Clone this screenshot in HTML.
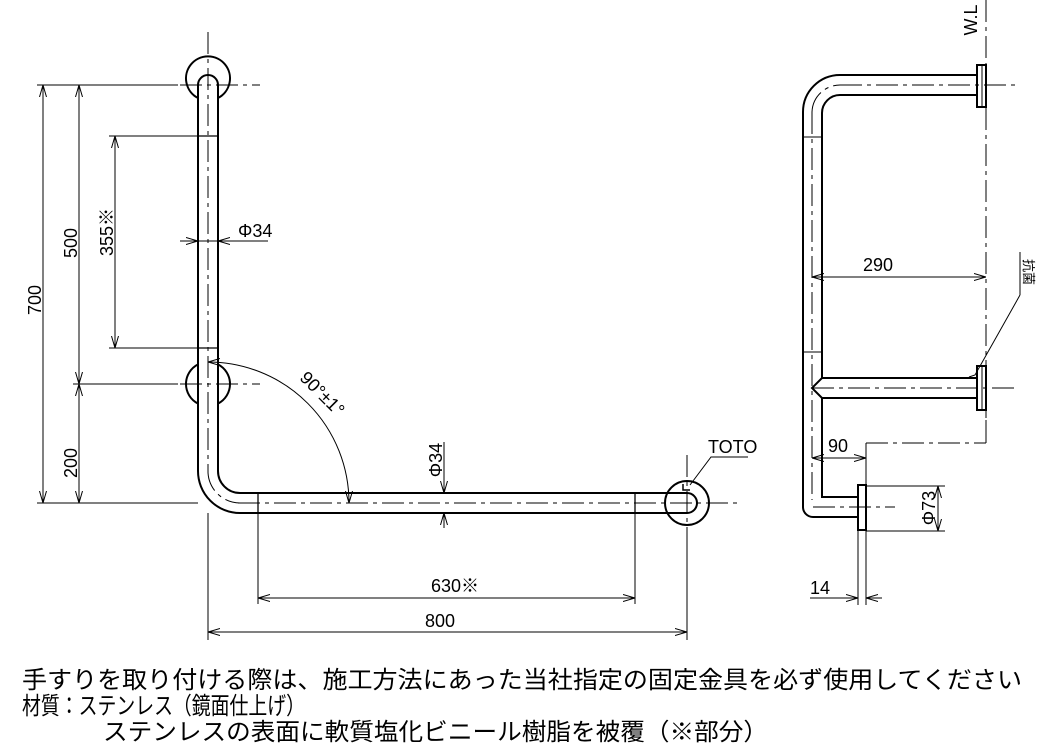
<!DOCTYPE html>
<html><head><meta charset="utf-8"><style>
html,body{margin:0;padding:0;background:#fff;}
svg{display:block;}
text{font-family:"Liberation Sans","Noto Sans CJK JP",sans-serif;fill:#000;}
</style></head><body>
<svg width="1039" height="752" viewBox="0 0 1039 752" xmlns="http://www.w3.org/2000/svg">
<defs>
<marker id="a" viewBox="0 0 12 8" refX="12" refY="4" markerWidth="12" markerHeight="8" orient="auto-start-reverse" markerUnits="userSpaceOnUse">
<polyline points="0,0.5 12,4 0,7.5" fill="none" stroke="#000" stroke-width="1"/></marker>
</defs>
<g fill="none" stroke="#000">
<g stroke-width="1" stroke-dasharray="22,5,4,5">
<line x1="208" y1="32" x2="208" y2="470"/>
<line x1="180" y1="85" x2="260" y2="85"/>
<line x1="180" y1="384" x2="260" y2="384"/>
<line x1="238" y1="503" x2="740" y2="503"/>
<line x1="687" y1="455" x2="687" y2="545"/>
<path d="M208 470 A32 32 0 0 0 240 503"/>
</g>
<g stroke-width="2">
<path d="M198 98 A22 22 0 1 1 218 98"/>
<path d="M198 364.4 A22 22 0 0 0 198 403.6"/>
<path d="M218 364.4 A22 22 0 0 1 218 403.6"/>
<path d="M687 481 A22 22 0 1 1 687 525 A22 22 0 0 1 687 481" />
<path d="M198 471 L198 85 A10 10 0 0 1 218 85 L218 471 A22 22 0 0 0 240 493 L687 493 A10 10 0 0 1 687 513 L240 513 A42 42 0 0 1 198 471"/>
</g>
<g stroke-width="1.3">
<line x1="198" y1="136" x2="218" y2="136"/>
<line x1="198" y1="348" x2="218" y2="348"/>
<line x1="258" y1="493" x2="258" y2="513"/>
<line x1="635" y1="493" x2="635" y2="513"/>
</g>
<g stroke-width="1">
<line x1="37" y1="85" x2="178" y2="85"/>
<line x1="73" y1="384" x2="178" y2="384"/>
<line x1="37" y1="503" x2="198" y2="503"/>
<line x1="109" y1="136" x2="198" y2="136"/>
<line x1="109" y1="348" x2="198" y2="348"/>
<line x1="43" y1="85" x2="43" y2="503" marker-start="url(#a)" marker-end="url(#a)"/>
<line x1="79" y1="85" x2="79" y2="384" marker-start="url(#a)" marker-end="url(#a)"/>
<line x1="79" y1="384" x2="79" y2="503" marker-start="url(#a)" marker-end="url(#a)"/>
<line x1="115" y1="136" x2="115" y2="348" marker-start="url(#a)" marker-end="url(#a)"/>
<line x1="180" y1="241" x2="198" y2="241" marker-end="url(#a)"/>
<line x1="268" y1="241" x2="218" y2="241" marker-end="url(#a)"/>
<line x1="198" y1="241" x2="218" y2="241"/>
<path d="M208 362 A141 141 0 0 1 349 503" marker-start="url(#a)" marker-end="url(#a)"/>
<line x1="444" y1="442" x2="444" y2="493" marker-end="url(#a)"/>
<line x1="444" y1="528" x2="444" y2="513" marker-end="url(#a)"/>
<line x1="258" y1="513" x2="258" y2="604"/>
<line x1="635" y1="513" x2="635" y2="604"/>
<line x1="258" y1="598" x2="635" y2="598" marker-start="url(#a)" marker-end="url(#a)"/>
<line x1="208" y1="513" x2="208" y2="640"/>
<line x1="687" y1="545" x2="687" y2="640"/>
<line x1="208" y1="632" x2="687" y2="632" marker-start="url(#a)" marker-end="url(#a)"/>
<polyline points="748,457 711,457 690,485"/>
<polyline points="683,484 683,490 690,490" stroke-width="1.5"/>
</g>

<g stroke-width="1" stroke-dasharray="22,5,4,5">
<line x1="986" y1="0" x2="986" y2="420"/>
<line x1="840" y1="85" x2="1018" y2="85"/>
<line x1="812" y1="388" x2="1018" y2="388"/>
<line x1="812" y1="112" x2="812" y2="500"/>
<path d="M812 112 A28 28 0 0 1 840 85"/>
<line x1="813" y1="507" x2="895" y2="507"/>
<line x1="866" y1="443" x2="986" y2="443"/>
</g>
<line x1="986" y1="420" x2="986" y2="443" stroke-width="1"/>
<g stroke-width="2">
<path d="M977 75 L840 75 A37 37 0 0 0 803 112 L803 507 A10 10 0 0 0 813 517 L858 517"/>
<path d="M977 95 L840 95 A18 18 0 0 0 822 113 L822 378 M822 398 L822 497 L858 497"/>
<path d="M977 378 L822 378 L812 388 L822 398 L977 398"/>
<rect x="977" y="65" width="9" height="42"/>
<rect x="977" y="366" width="9" height="44"/>
<rect x="858" y="485" width="8" height="45"/>
</g>
<g stroke-width="1">
<line x1="982" y1="65" x2="982" y2="107"/>
<line x1="982" y1="366" x2="982" y2="410"/>
<line x1="803" y1="137" x2="822" y2="137"/>
<line x1="803" y1="352" x2="822" y2="352"/>
<line x1="812" y1="277" x2="986" y2="277" marker-start="url(#a)" marker-end="url(#a)"/>
<line x1="812" y1="458" x2="866" y2="458" marker-start="url(#a)" marker-end="url(#a)"/>
<line x1="866" y1="443" x2="866" y2="605"/>
<line x1="858" y1="530" x2="858" y2="605"/>
<line x1="866" y1="486" x2="945" y2="486"/>
<line x1="866" y1="531" x2="945" y2="531"/>
<line x1="938" y1="486" x2="938" y2="531" marker-start="url(#a)" marker-end="url(#a)"/>
<line x1="810" y1="598" x2="858" y2="598" marker-end="url(#a)"/>
<line x1="882" y1="598" x2="866" y2="598" marker-end="url(#a)"/>
<line x1="1020" y1="252" x2="1020" y2="295"/>
<polyline points="1020,295 975,375 969,377"/>
</g>
</g>

<g font-size="18">
<text transform="translate(41,300) rotate(-90)" text-anchor="middle">700</text>
<text transform="translate(77,243) rotate(-90)" text-anchor="middle">500</text>
<text transform="translate(113,232) rotate(-90)" text-anchor="middle">355※</text>
<text transform="translate(77,463) rotate(-90)" text-anchor="middle">200</text>
<text x="238" y="237">Φ34</text>
<text transform="translate(318,398) rotate(45)" text-anchor="middle">90°±1°</text>
<text transform="translate(442,460) rotate(-90)" text-anchor="middle">Φ34</text>
<text x="455" y="592" text-anchor="middle">630※</text>
<text x="440" y="627" text-anchor="middle">800</text>
<text x="708" y="453">TOTO</text>
<text x="878" y="271" text-anchor="middle">290</text>
<text x="838" y="452" text-anchor="middle">90</text>
<text transform="translate(935,508) rotate(-90)" text-anchor="middle">Φ73</text>
<text x="810" y="594">14</text>
<text transform="translate(977,20) rotate(-90)" text-anchor="middle">W.L</text>
<text transform="translate(1024,272) rotate(90)" font-size="13" text-anchor="middle">抗菌</text>
</g>
<g font-size="24">
<text x="22" y="688" textLength="1000" lengthAdjust="spacingAndGlyphs">手すりを取り付ける際は、施工方法にあった当社指定の固定金具を必ず使用してください</text>
<text x="22" y="714" textLength="283" lengthAdjust="spacingAndGlyphs">材質：ステンレス（鏡面仕上げ）</text>
<text x="103" y="740" textLength="665" lengthAdjust="spacingAndGlyphs">ステンレスの表面に軟質塩化ビニール樹脂を被覆（※部分）</text>
</g>
</svg>
</body></html>
